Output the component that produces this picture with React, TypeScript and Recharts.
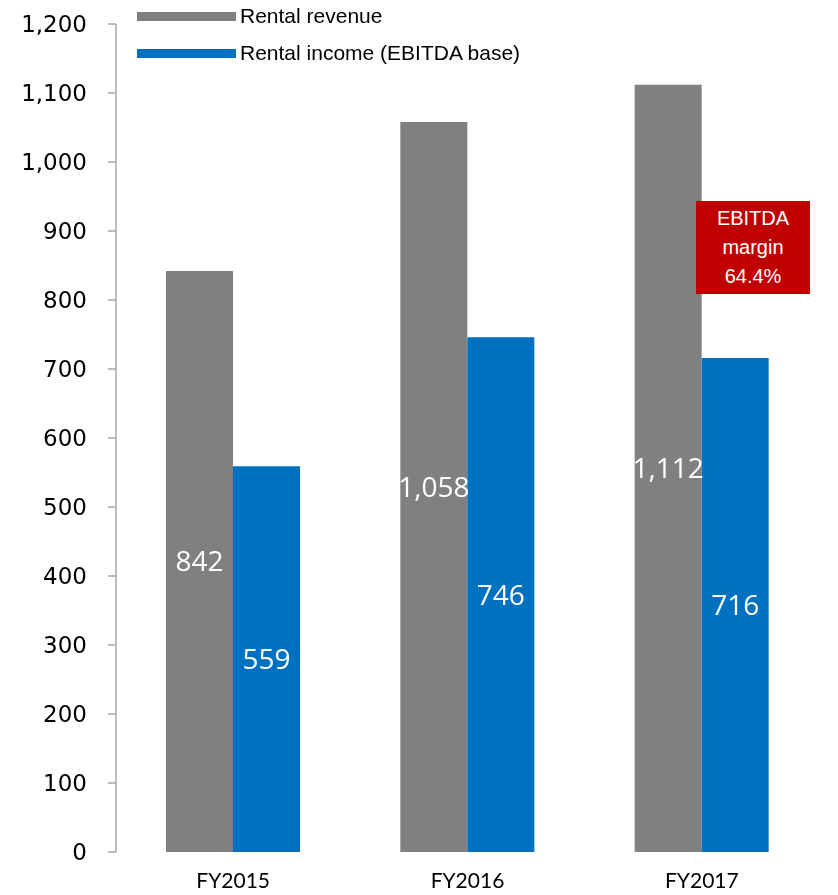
import React from 'react';
import { BarChart, Bar, XAxis, YAxis, LabelList } from 'recharts';

// Fiscal years on the category axis
const categories = ['FY2015', 'FY2016', 'FY2017'];
// Series values
const rentalRevenue = [842, 1058, 1112];
const rentalIncome = [559, 746, 716];
// Value axis ticks
const yTicks = [0, 100, 200, 300, 400, 500, 600, 700, 800, 900, 1000, 1100, 1200];
// Category boundaries for the bottom axis tick marks
const boundaryTicks = [0, 1, 2, 3];
const seriesNames = ['Rental revenue', 'Rental income (EBITDA base)'];
const seriesColors = ['#808080', '#0070C0'];

const data = categories.map((name, i) => ({
  name,
  revenue: rentalRevenue[i],
  income: rentalIncome[i],
}));

const last = categories.length - 1;
const marginPct = ((rentalIncome[last] / rentalRevenue[last]) * 100).toFixed(1);
const marginLines = ['EBITDA', 'margin', `${marginPct}%`];

const fmt = (v: number) => Number(v).toLocaleString('en-US');

const AXIS = '#A6A6A6';
const VALUE_FONT = '"DejaVu Sans", Verdana, sans-serif';
const CAT_FONT = 'Lato, "Open Sans", sans-serif';
const ARIAL = '"Liberation Sans", Arial, sans-serif';

export default function App() {
  return (
    <div style={{ position: 'fixed', left: 0, top: 0, width: 838, height: 895 }}>
      <BarChart
        width={838}
        height={895}
        data={data}
        margin={{ top: 24, right: 19, bottom: 0, left: 56 }}
        barSize={67}
        barGap={0}
      >
        <XAxis
          xAxisId="frame"
          type="number"
          domain={[0, 3]}
          ticks={boundaryTicks}
          allowDataOverflow
          height={0}
          tick={false}
          tickSize={7}
          axisLine={{ stroke: AXIS, strokeWidth: 1.5 }}
          tickLine={{ stroke: AXIS, strokeWidth: 1.5 }}
        />
        <XAxis
          xAxisId="cat"
          dataKey="name"
          height={43}
          axisLine={false}
          tickLine={false}
          tickSize={0}
          tickMargin={21}
          tick={{ fill: '#000', fontSize: 21, fontFamily: CAT_FONT }}
        />
        <YAxis
          width={60}
          domain={[0, 1200]}
          ticks={yTicks}
          interval={0}
          tickFormatter={fmt}
          tickSize={8}
          tickMargin={21}
          axisLine={{ stroke: AXIS, strokeWidth: 1.5 }}
          tickLine={{ stroke: AXIS, strokeWidth: 1.5 }}
          tick={{ fill: '#000', fontSize: 23, fontFamily: VALUE_FONT }}
        />
        <Bar xAxisId="cat" dataKey="revenue" name={seriesNames[0]} fill={seriesColors[0]} isAnimationActive={false}>
          <LabelList
            dataKey="revenue"
            position="center"
            formatter={(v: any) => fmt(v)}
            fill="#fff"
            fontSize={28}
            fontFamily='"Open Sans", sans-serif'
          />
        </Bar>
        <Bar xAxisId="cat" dataKey="income" name={seriesNames[1]} fill={seriesColors[1]} isAnimationActive={false}>
          <LabelList
            dataKey="income"
            position="center"
            formatter={(v: any) => fmt(v)}
            fill="#fff"
            fontSize={28}
            fontFamily='"Open Sans", sans-serif'
          />
        </Bar>
      </BarChart>

      {/* Legend */}
      {seriesNames.map((n, i) => (
        <div
          key={n}
          style={{
            position: 'absolute',
            left: 137,
            top: 3 + i * 37,
            height: 26,
            display: 'flex',
            alignItems: 'center',
            fontFamily: ARIAL,
            fontSize: 21,
            color: '#000',
            whiteSpace: 'nowrap',
          }}
        >
          <span style={{ display: 'inline-block', width: 99, height: 9, background: seriesColors[i], marginRight: 4 }} />
          <span>{n}</span>
        </div>
      ))}

      {/* EBITDA margin callout */}
      <div
        style={{
          position: 'absolute',
          left: 696,
          top: 201,
          width: 114,
          height: 93,
          background: '#C00000',
          color: '#fff',
          fontFamily: ARIAL,
          fontSize: 20,
          lineHeight: '29px',
          textAlign: 'center',
          display: 'flex',
          flexDirection: 'column',
          justifyContent: 'center',
        }}
      >
        {marginLines.map((t) => (
          <div key={t}>{t}</div>
        ))}
      </div>
    </div>
  );
}
